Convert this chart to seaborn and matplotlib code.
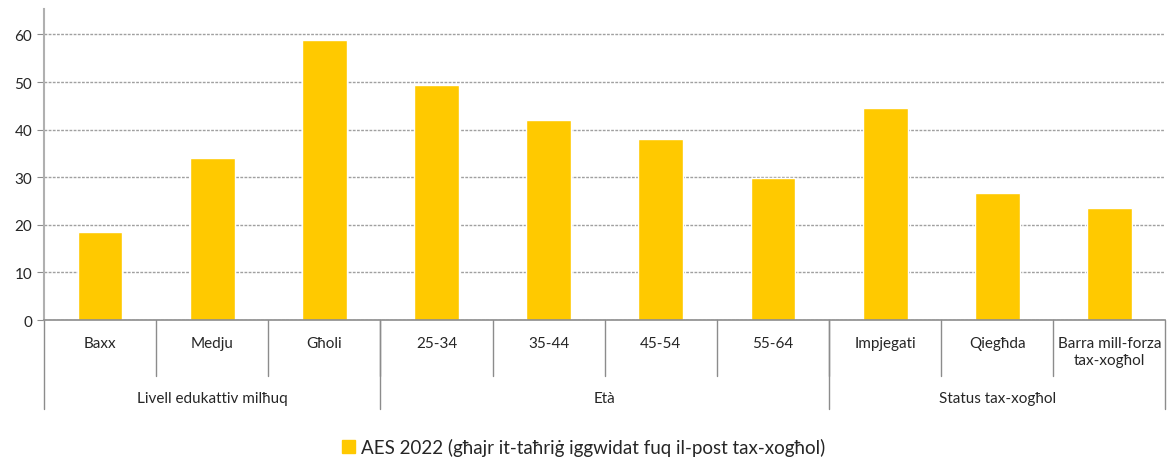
import pandas as pd
import seaborn as sns
import matplotlib.pyplot as plt
from matplotlib.patches import Patch
import matplotlib.transforms as mtransforms

# data
categories = ["Baxx", "Medju", "Għoli", "25-34", "35-44", "45-54", "55-64",
              "Impjegati", "Qiegħda", "Barra mill-forza\ntax-xogħol"]
values = [18.4, 34.0, 58.8, 49.4, 42.1, 38.0, 29.8, 44.6, 26.7, 23.6]
groups = ["Livell edukattiv milħuq", "Età", "Status tax-xogħol"]
group_sizes = [3, 4, 3]
series_name = "AES 2022 (għajr it-taħriġ iggwidat fuq il-post tax-xogħol)"

bar_color = "#FFC900"
line_color = "#8C8C8C"

sns.set_style("white")
plt.rcParams["font.family"] = ["Lato", "DejaVu Sans"]

df = pd.DataFrame({"category": categories, "value": values})

fig = plt.figure(figsize=(11.67, 4.64), dpi=100)
ax = fig.add_axes([0.0377, 0.308, 0.961, 0.670])

sns.barplot(data=df, x="category", y="value", color=bar_color, width=0.4,
            saturation=1, ax=ax)

ax.set_xlim(-0.5, len(categories) - 0.5)
ax.set_ylim(0, 65.3)
ax.set_yticks(range(0, 61, 10))
ax.yaxis.grid(True, linestyle=(0, (2, 1)), color="#A0A0A0", linewidth=1)
ax.set_axisbelow(True)
ax.set_xlabel("")
ax.set_ylabel("")
ax.set_xticks([])
ax.tick_params(axis="y", labelsize=11, length=5, color=line_color, left=True)

for s in ["top", "right"]:
    ax.spines[s].set_visible(False)
ax.spines["left"].set_color("#B0B0B0")
ax.spines["left"].set_linewidth(1.5)
ax.spines["bottom"].set_color(line_color)
ax.spines["bottom"].set_linewidth(1.2)

# multi-level category axis
trans = mtransforms.blended_transform_factory(ax.transData, ax.transAxes)
for i in range(1, len(categories)):
    ax.plot([i - 0.5, i - 0.5], [0, -0.18], transform=trans, color=line_color,
            linewidth=1, clip_on=False)
for i, c in enumerate(categories):
    ax.text(i, -0.05, c, transform=trans, ha="center", va="top", fontsize=11,
            linespacing=1.3)

start = 0
edges = [-0.5]
for g, n in zip(groups, group_sizes):
    ax.text(start + (n - 1) / 2, -0.25, g, transform=trans, ha="center",
            va="center", fontsize=11)
    start += n
    edges.append(start - 0.5)
for e in edges:
    ax.plot([e, e], [0, -0.286], transform=trans, color=line_color,
            linewidth=1, clip_on=False)

fig.legend(handles=[Patch(color=bar_color, label=series_name)],
           loc="lower center", bbox_to_anchor=(0.5, -0.022), frameon=False,
           fontsize=13.5, handlelength=0.7, handleheight=0.7, handletextpad=0.3)

fig.savefig("out.png", dpi=100)
